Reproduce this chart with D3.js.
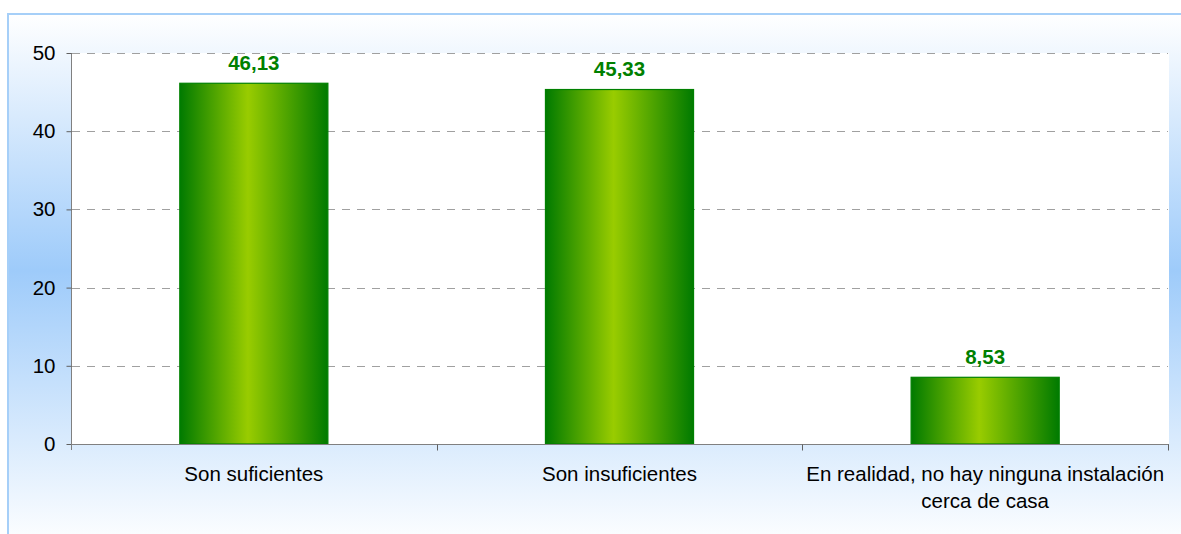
<!DOCTYPE html>
<html><head><meta charset="utf-8">
<script src="https://cdn.jsdelivr.net/npm/d3@7"></script>
<style>html,body{margin:0;padding:0;background:#fff;}svg{display:block;}</style>
</head><body>
<script>
const categories = ["Son suficientes", "Son insuficientes", "En realidad, no hay ninguna instalación cerca de casa"];
const categoryLines = [["Son suficientes"], ["Son insuficientes"], ["En realidad, no hay ninguna instalación", "cerca de casa"]];
const values = [46.13, 45.33, 8.53];
const valueLabels = ["46,13", "45,33", "8,53"];
const yTicks = [0, 10, 20, 30, 40, 50];

const W = 1181, H = 534;
const svg = d3.select("body").append("svg").attr("width", W).attr("height", H);
const defs = svg.append("defs");

const bg = defs.append("linearGradient").attr("id", "bg").attr("x1", 0).attr("y1", 0).attr("x2", 0).attr("y2", 1);
bg.append("stop").attr("offset", 0).attr("stop-color", "#ffffff");
bg.append("stop").attr("offset", 0.48).attr("stop-color", "#9ecbfa");
bg.append("stop").attr("offset", 1).attr("stop-color", "#ffffff");

const bar = defs.append("linearGradient").attr("id", "bar").attr("x1", 0).attr("y1", 0).attr("x2", 1).attr("y2", 0);
bar.append("stop").attr("offset", 0).attr("stop-color", "#007a00");
bar.append("stop").attr("offset", 0.46).attr("stop-color", "#99cc00");
bar.append("stop").attr("offset", 1).attr("stop-color", "#007a00");

// chart area
svg.append("rect").attr("x", 8).attr("y", 14).attr("width", W).attr("height", H)
  .attr("fill", "url(#bg)").attr("stroke", "#a6cff8").attr("stroke-width", 2);

const m = {l: 71, r: 1168, t: 53, b: 444};
// plot area
svg.append("rect").attr("x", m.l).attr("y", m.t).attr("width", m.r - m.l + 1).attr("height", m.b - m.t).attr("fill", "#fff");

const x = d3.scaleBand().domain(categories).range([m.l, m.r]).paddingInner(0).paddingOuter(0);
const y = d3.scaleLinear().domain([0, 50]).range([m.b, m.t]);

// gridlines
svg.append("g").selectAll("line").data(yTicks.filter(d => d > 0)).join("line")
  .attr("x1", m.l + 1).attr("x2", m.r).attr("y1", d => Math.round(y(d)) + 0.5).attr("y2", d => Math.round(y(d)) + 0.5)
  .attr("stroke", "#a0a0a0").attr("stroke-dasharray", "8,7");

// bars
const bw = x.bandwidth() * 0.405;
svg.append("g").selectAll("rect").data(values).join("rect")
  .attr("x", (d, i) => x(categories[i]) + (x.bandwidth() - bw) / 2)
  .attr("y", d => y(d))
  .attr("width", bw)
  .attr("height", d => y(0) - y(d))
  .attr("fill", "url(#bar)")
  .attr("stroke", "#008000").attr("stroke-width", 1.2);

// value labels
svg.append("g").selectAll("text").data(values).join("text")
  .attr("x", (d, i) => x(categories[i]) + x.bandwidth() / 2)
  .attr("y", d => y(d) - 13.5)
  .attr("text-anchor", "middle")
  .attr("font-family", "Liberation Sans, Arial, sans-serif")
  .attr("font-weight", "bold").attr("font-size", 20.5).attr("fill", "#008000")
  .text((d, i) => valueLabels[i]);

// y axis
const yAxis = d3.axisLeft(y).tickValues(yTicks).tickSize(5).tickPadding(11).tickFormat(d3.format("d"));
const gy = svg.append("g").attr("transform", `translate(${m.l + 0.5},0)`).call(yAxis);
gy.select(".domain").attr("stroke", "#808080").attr("d", `M0,${m.t}V${m.b + 6}`);
gy.selectAll(".tick line").attr("stroke", "#606060");
gy.selectAll(".tick text").attr("font-family", "Liberation Sans, Arial, sans-serif").attr("font-size", 20.5).attr("fill", "#000");

// x axis
const gx = svg.append("g").attr("transform", `translate(0,${m.b + 0.5})`);
gx.append("line").attr("x1", m.l).attr("x2", m.r + 1).attr("stroke", "#808080");
const bounds = categories.map(c => x(c)).concat([m.r]);
gx.selectAll("line.tk").data(bounds.slice(1)).join("line").attr("class", "tk")
  .attr("x1", d => Math.round(d) + 0.5).attr("x2", d => Math.round(d) + 0.5).attr("y1", 0).attr("y2", 6)
  .attr("stroke", "#606060");

// category labels
const cl = svg.append("g").selectAll("text").data(categoryLines).join("text")
  .attr("text-anchor", "middle")
  .attr("font-family", "Liberation Sans, Arial, sans-serif").attr("font-size", 20.5).attr("fill", "#000")
  .attr("transform", (d, i) => `translate(${x(categories[i]) + x.bandwidth() / 2},481)`);
cl.selectAll("tspan").data(d => d).join("tspan")
  .attr("x", 0).attr("y", (d, j) => j * 27).text(d => d);
</script>
</body></html>
